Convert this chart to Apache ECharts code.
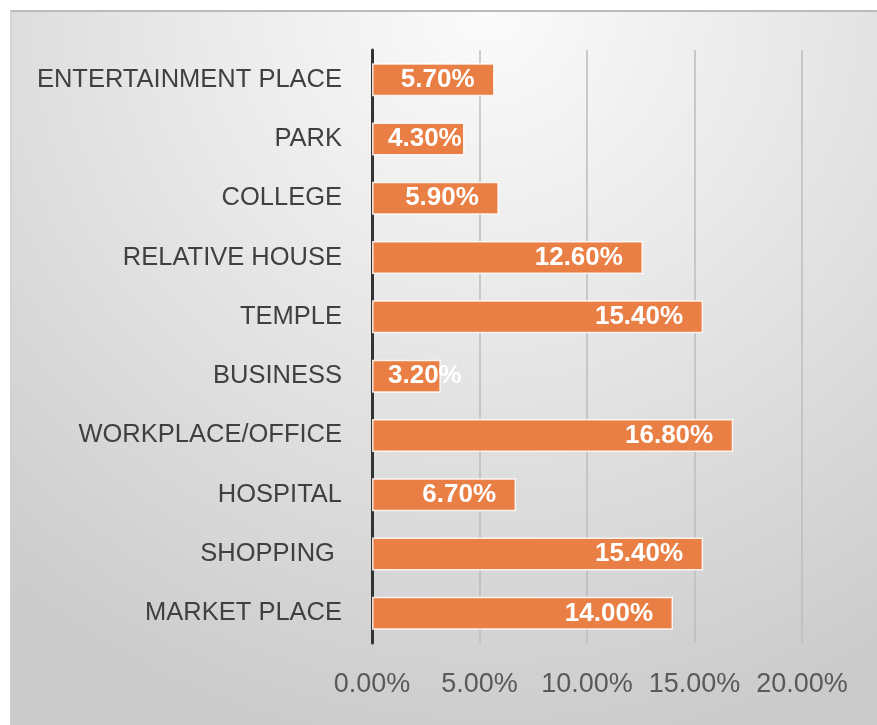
<!DOCTYPE html>
<html>
<head>
<meta charset="utf-8">
<script src="https://cdn.jsdelivr.net/npm/echarts@6/dist/echarts.min.js"></script>
<style>
  html, body { margin: 0; padding: 0; background: #ffffff; }
  #chart { width: 877px; height: 725px; }
</style>
</head>
<body>
<div id="chart"></div>
<script>
// Places visited, listed top to bottom
const categories = [
  'ENTERTAINMENT PLACE',
  'PARK',
  'COLLEGE',
  'RELATIVE HOUSE',
  'TEMPLE',
  'BUSINESS',
  'WORKPLACE/OFFICE',
  'HOSPITAL',
  'SHOPPING ',
  'MARKET PLACE'
];
// Share of respondents, in percent
const shares = [5.7, 4.3, 5.9, 12.6, 15.4, 3.2, 16.8, 6.7, 15.4, 14.0];
// Value axis ticks, in percent
const tickValues = [0, 5, 10, 15, 20];

const FONT = '"Liberation Sans", Arial, sans-serif';

const chart = echarts.init(document.getElementById('chart'), null, { renderer: 'canvas' });

// Short bars keep their label anchored near the axis instead of at the bar end
const barData = shares.map(v => v < 5
  ? { value: v, label: { position: 'insideLeft', distance: 16 } }
  : v);

chart.setOption({
  animation: false,
  graphic: [
    {
      type: 'rect',
      z: -10,
      shape: { x: 10, y: 10, width: 867, height: 715 },
      style: {
        fill: {
          type: 'radial', x: 0.55, y: 0.0, r: 1.05,
          colorStops: [
            { offset: 0, color: '#fbfbfb' },
            { offset: 0.4, color: '#e9e9e9' },
            { offset: 1, color: '#cbcbcb' }
          ]
        }
      },
      silent: true
    },
    {
      type: 'line',
      z: -9,
      shape: { x1: 10, y1: 11, x2: 877, y2: 11 },
      style: { stroke: '#bcbcbc', lineWidth: 2 },
      silent: true
    },
    {
      type: 'line',
      z: -9,
      shape: { x1: 11, y1: 10, x2: 11, y2: 725 },
      style: { stroke: '#d0d0d0', lineWidth: 1.5 },
      silent: true
    }
  ],
  grid: { left: 372, right: 75, top: 50, bottom: 82, containLabel: false },
  xAxis: {
    type: 'value',
    min: tickValues[0],
    max: tickValues[tickValues.length - 1],
    interval: tickValues[1] - tickValues[0],
    axisLine: { show: false },
    axisTick: { show: false },
    splitLine: { show: true, lineStyle: { color: '#bdbdbd', width: 1.5 } },
    axisLabel: {
      color: '#595959',
      fontFamily: FONT,
      fontSize: 27,
      margin: 28,
      formatter: v => v.toFixed(2) + '%'
    }
  },
  yAxis: {
    type: 'category',
    inverse: true,
    data: categories,
    axisLine: { show: true, lineStyle: { color: '#333333', width: 3 } },
    axisTick: { show: false },
    axisLabel: {
      color: '#404040',
      fontFamily: FONT,
      fontSize: 25.5,
      margin: 30
    }
  },
  series: [{
    type: 'bar',
    data: barData,
    barWidth: 33,
    itemStyle: {
      color: '#ea7f45',
      borderColor: 'rgba(255,255,255,0.85)',
      borderWidth: 1.5
    },
    label: {
      show: true,
      position: 'insideRight',
      distance: 20,
      color: '#ffffff',
      fontFamily: FONT,
      fontWeight: 'bold',
      fontSize: 26,
      formatter: p => p.value.toFixed(2) + '%'
    }
  }]
});
</script>
</body>
</html>
